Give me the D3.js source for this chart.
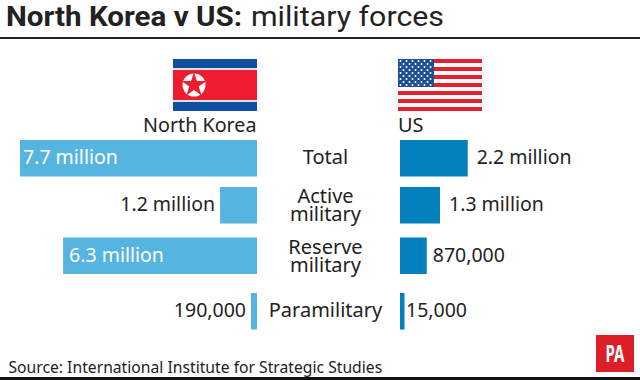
<!DOCTYPE html>
<html>
<head>
<meta charset="utf-8">
<script src="https://cdn.jsdelivr.net/npm/d3@7"></script>
<style>
  html, body { margin: 0; padding: 0; background: #fff; }
  text { font-family: "Noto Sans", sans-serif; fill: #222; }
</style>
</head>
<body>
<div id="chart"></div>
<script>
var categories = ['Total', 'Active military', 'Reserve military', 'Paramilitary'];
var north_korea_values = [7700000, 1200000, 6300000, 190000];
var us_values = [2200000, 1300000, 870000, 15000];
var north_korea_labels = ['7.7 million', '1.2 million', '6.3 million', '190,000'];
var us_labels = ['2.2 million', '1.3 million', '870,000', '15,000'];

var width = 640, height = 380;
var nk_x0 = 257, us_x0 = 400, bar_height = 36.5;
var nk_colour = '#56b4e0', us_colour = '#0480bd';

var svg = d3.select('#chart')
  .append('svg')
  .attr('width', width)
  .attr('height', height)
  .style('display', 'block');

// Title, with the two rules at top and bottom
svg.append('text')
  .attr('x', 6)
  .attr('y', 26)
  .style('font-family', 'Roboto, sans-serif')
  .style('font-size', '27px')
  .style('font-weight', 'bold')
  .attr('textLength', 236)
  .attr('lengthAdjust', 'spacingAndGlyphs')
  .text('North Korea v US:');
svg.append('text')
  .attr('x', 251)
  .attr('y', 26)
  .style('font-family', 'Roboto, sans-serif')
  .style('font-size', '27px')
  .attr('textLength', 193)
  .attr('lengthAdjust', 'spacingAndGlyphs')
  .text('military forces');

svg.append('rect').attr('x', 0).attr('y', 37).attr('width', width).attr('height', 2).attr('fill', '#222');
svg.append('rect').attr('x', 0).attr('y', 377).attr('width', width).attr('height', 3).attr('fill', '#111');

// Bars
var x_scale = d3.scaleLinear().domain([0, 7700000]).range([0, 237]);
var y_scale = d3.scaleOrdinal().domain(categories).range([140, 187, 237.5, 293]);

// the smallest bars are drawn wider than their value so that they can be seen
function bar_width(value, smallest) {
  return Math.max(x_scale(value), smallest);
}

svg.selectAll('.nk_bar')
  .data(categories)
  .enter()
  .append('rect')
  .attr('class', 'nk_bar')
  .attr('x', function(d, i) { return nk_x0 - bar_width(north_korea_values[i], 6); })
  .attr('y', function(d) { return y_scale(d); })
  .attr('width', function(d, i) { return bar_width(north_korea_values[i], 6); })
  .attr('height', bar_height)
  .attr('fill', nk_colour);

svg.selectAll('.us_bar')
  .data(categories)
  .enter()
  .append('rect')
  .attr('class', 'us_bar')
  .attr('x', us_x0)
  .attr('y', function(d) { return y_scale(d); })
  .attr('width', function(d, i) { return bar_width(us_values[i], 4.5); })
  .attr('height', bar_height)
  .attr('fill', us_colour);

// Value labels. The two long North Korea bars carry theirs inside in white.
svg.selectAll('.nk_label')
  .data(categories)
  .enter()
  .append('text')
  .attr('class', 'nk_label')
  .attr('x', function(d, i) {
    var w = bar_width(north_korea_values[i], 6);
    if (w > 100) return nk_x0 - w + (d === 'Total' ? 3 : 6);
    return nk_x0 - w - 5;
  })
  .attr('y', function(d) { return y_scale(d) + 24; })
  .attr('text-anchor', function(d, i) { return x_scale(north_korea_values[i]) > 100 ? 'start' : 'end'; })
  .style('fill', function(d, i) { return x_scale(north_korea_values[i]) > 100 ? '#fff' : '#222'; })
  .style('font-size', '19.5px')
  .text(function(d, i) { return north_korea_labels[i]; });

svg.selectAll('.us_label')
  .data(categories)
  .enter()
  .append('text')
  .attr('class', 'us_label')
  .attr('x', function(d, i) {
    var w = bar_width(us_values[i], 4.5);
    if (w > 30) return us_x0 + w + 9;
    return w > 10 ? us_x0 + w + 6 : us_x0 + w + 1.5;
  })
  .attr('y', function(d) { return y_scale(d) + 24; })
  .style('font-size', '19.5px')
  .text(function(d, i) { return us_labels[i]; });

// Category labels, two lines for the ones with a space
svg.selectAll('.cat_label')
  .data(categories)
  .enter()
  .append('text')
  .attr('class', 'cat_label')
  .attr('text-anchor', 'middle')
  .style('font-size', '20px')
  .each(function(d) {
    var words = d.split(' ');
    var el = d3.select(this);
    words.forEach(function(w, i) {
      el.append('tspan')
        .attr('x', 325.5)
        .attr('y', y_scale(d) + (words.length > 1 ? 16 + i * 18 : 24))
        .text(w);
    });
  });

// Country names
svg.append('text').attr('x', 256.5).attr('y', 132).attr('text-anchor', 'end').style('font-size', '19.7px').text('North Korea');
svg.append('text').attr('x', 398).attr('y', 132).style('font-size', '20px').text('US');

// North Korea flag
var nk_flag = svg.append('g').attr('transform', 'translate(173,59)');
nk_flag.append('rect').attr('width', 84).attr('height', 52).attr('fill', '#0f4f9f');
nk_flag.append('rect').attr('y', 9).attr('width', 84).attr('height', 34).attr('fill', '#e3dfe6');
nk_flag.append('rect').attr('y', 11).attr('width', 84).attr('height', 30).attr('fill', '#ed1c2e');
nk_flag.append('circle').attr('cx', 21).attr('cy', 26).attr('r', 11.5).attr('fill', '#fff');
nk_flag.append('path')
  .attr('transform', 'translate(21,26)')
  .attr('fill', '#ed1c2e')
  .attr('d', d3.symbol().type(d3.symbolStar).size(190));

// US flag
var us_flag = svg.append('g').attr('transform', 'translate(398,59)');
us_flag.selectAll('.stripe')
  .data(d3.range(7))
  .enter()
  .append('rect')
  .attr('class', 'stripe')
  .attr('y', function(d) { return d * 8; })
  .attr('width', 84)
  .attr('height', 4)
  .attr('fill', '#e3212f');
us_flag.append('rect').attr('width', 36).attr('height', 28).attr('fill', '#1c4f96');
d3.range(9).forEach(function(row) {
  d3.range(row % 2 ? 5 : 6).forEach(function(col) {
    us_flag.append('circle')
      .attr('cx', (row % 2 ? 5.5 : 2.5) + col * 6)
      .attr('cy', 2 + row * 3)
      .attr('r', 1)
      .attr('fill', '#fff');
  });
});

// Source and PA logo
svg.append('text').attr('x', 8.5).attr('y', 373).style('font-size', '15.7px').text('Source: International Institute for Strategic Studies');
svg.append('rect').attr('x', 596).attr('y', 335).attr('width', 38).attr('height', 37).attr('fill', '#dc1f26');
svg.append('text')
  .attr('x', 615)
  .attr('y', 362)
  .attr('text-anchor', 'middle')
  .style('fill', '#fff')
  .style('font-size', '24px')
  .style('font-weight', 'bold')
  .attr('textLength', 19)
  .attr('lengthAdjust', 'spacingAndGlyphs')
  .text('PA');
</script>
</body>
</html>
